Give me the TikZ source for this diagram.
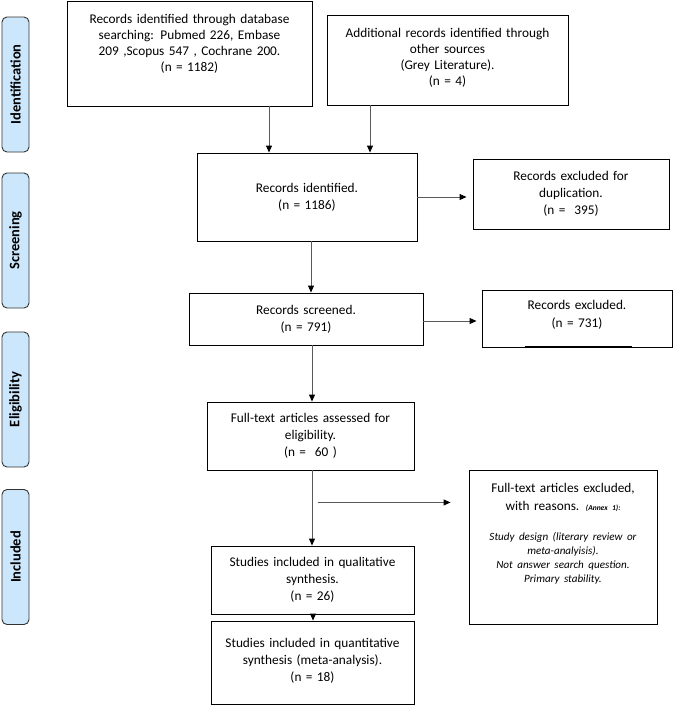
\documentclass[tikz,border=0pt]{standalone}
\usepackage{fontspec}
\setmainfont{Carlito}
\usepackage{tikz}
\usetikzlibrary{arrows.meta}
\definecolor{phaseblue}{RGB}{204,231,252}
\newcommand{\pushup}[1]{\par\vspace{#1}\nointerlineskip\null}
\tikzstyle{phase} = [rectangle, rounded corners=5pt, draw=black!80, line width=0.9pt, fill=phaseblue, minimum width=135pt, minimum height=27pt, inner sep=0pt, rotate=90, font=\fontsize{14.5}{17}\selectfont\bfseries]
\tikzstyle{box} = [rectangle, draw=black, line width=0.9pt, inner sep=0pt, align=center, font=\fontsize{13.3}{17}\selectfont]
\tikzstyle{arrow} = [line width=0.9pt, draw=black!65, -{Triangle[length=7pt,width=6pt,color=black]}]

\begin{document}
\begin{tikzpicture}[x=1pt, y=1pt, node distance=120pt]
\useasboundingbox (0,0) rectangle (675,-705);

% phases on the left
\node (idph) [phase] at (15.5,-84.5) {Identification};
\node (scph) [phase] at (15.5,-240.5) {Screening};
\node (elph) [phase] at (15.5,-399.5) {Eligibility};
\node (inph) [phase] at (15.5,-557) {Included};

\node (db) [box, text width=245pt, minimum height=105pt] at (189.5,-53.5) {\fontsize{13.3}{16}\selectfont Records identified through database\\
searching: Pubmed 226, Embase\\ 209 ,Scopus 547 , Cochrane 200.\\ (n = 1182)\pushup{20pt}};
\node (extra) [box, text width=241pt, minimum height=90pt, right of=db, xshift=138pt, yshift=-6.5pt] {\fontsize{13.3}{16}\selectfont Additional records identified through\\
other sources\\ (Grey Literature).\\ (n = 4)\pushup{5pt}};
\node (ident) [box, text width=220pt, minimum height=88pt, below of=db, xshift=117.5pt, yshift=-23.5pt] {Records identified.\\ (n = 1186)};
\node (dup) [box, text width=196pt, minimum height=70pt, right of=ident, xshift=144pt, yshift=3pt] {Records excluded for\\ duplication.\\ (n =\ \ 395)};
\node (screened) [box, text width=234pt, minimum height=52pt, below of=ident, xshift=-1pt, yshift=-2pt] {Records screened.\\ (n = 791)};
\node (excl) [box, text width=190pt, minimum height=57pt, right of=screened, xshift=151pt, yshift=0.5pt] {\fontsize{13.3}{18}\selectfont Records excluded.\\ (n = 731)\pushup{8pt}};
\node (fulltext) [box, text width=207pt, minimum height=68pt, below of=screened, xshift=4.5pt, yshift=3pt] {Full-text articles assessed for\\ eligibility.\\ (n =\ \ 60\ )};
\node (qual) [box, text width=203pt, minimum height=68pt, below of=fulltext, xshift=2pt, yshift=-24pt] {Studies included in qualitative\\ synthesis.\\ (n = 26)};
\node (quant) [box, text width=203pt, minimum height=83pt, below of=qual, yshift=37.5pt] {Studies included in quantitative\\ synthesis (meta-analysis).\\ (n = 18)\pushup{4pt}};
\node (reasons) [box, text width=188pt, minimum height=154pt, right of=qual, xshift=130.5pt, yshift=33pt] {\fontsize{13.3}{18}\selectfont Full-text articles excluded,\\
with reasons. {\fontsize{7.5}{9}\selectfont\bfseries\itshape (Annex 1):}\par\vspace{16pt}
{\fontsize{11.1}{14}\selectfont\itshape Study design (literary review or\\ meta-analyisis).\\ Not answer search question.\\ Primary stability.\par}\pushup{26pt}};

\draw [line width=2pt] ([xshift=43pt]excl.south west) -- ([xshift=150pt]excl.south west);

\draw [arrow] ([xshift=79.5pt]db.south) -- ([xshift=79.5pt]db.south |- ident.north);
\draw [arrow] ([xshift=-77.5pt]extra.south) -- ([xshift=-77.5pt]extra.south |- ident.north);
\draw [arrow, shorten >=6pt] (ident.east) -- (ident.east -| dup.west);
\draw [arrow] ([xshift=4pt]ident.south) -- ([xshift=4pt]ident.south |- screened.north);
\draw [arrow, shorten >=5pt] ([yshift=-2pt]screened.east) -- ([yshift=-2pt]screened.east -| excl.west);
\draw [arrow] ([xshift=6pt]screened.south) -- ([xshift=6pt]screened.south |- fulltext.north);
\draw [arrow] ([xshift=1.5pt]fulltext.south) -- ([xshift=1.5pt]fulltext.south |- qual.north);
\coordinate (split) at ([xshift=5pt, yshift=-32pt]fulltext.south -| qual.north);
\draw [arrow, shorten >=18pt] (split) -- (split -| reasons.west);
\draw [arrow] ([xshift=0.5pt]qual.south) -- ([xshift=0.5pt]qual.south |- quant.north);

\end{tikzpicture}
\end{document}
